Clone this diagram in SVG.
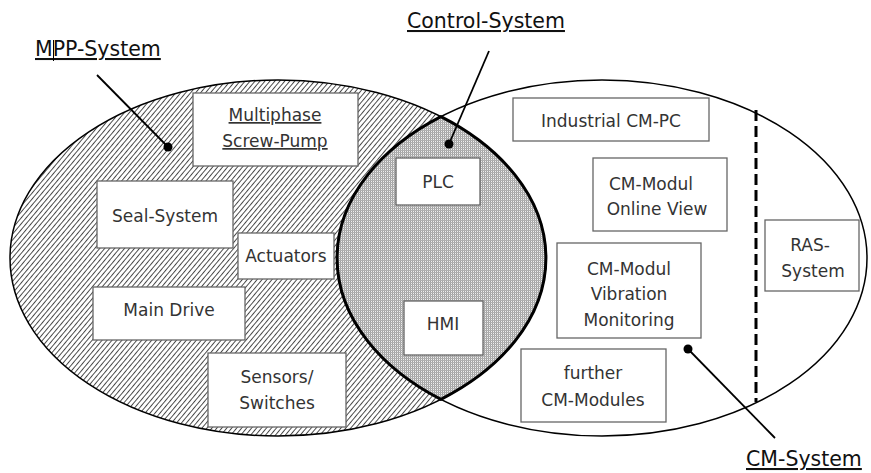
<svg xmlns="http://www.w3.org/2000/svg" width="871" height="473" viewBox="0 0 871 473">
<style>
.box{fill:#fff;stroke:#666;stroke-width:1.3}
.bt{font-family:"DejaVu Sans",Verdana,sans-serif;font-size:17px;fill:#333;text-anchor:middle}
.lbl{font-family:"DejaVu Sans",Verdana,sans-serif;font-size:20.5px;fill:#111;text-decoration:underline}
.outline{fill:none;stroke:#000;stroke-width:1.5}
.ptr{stroke:#000;stroke-width:1.8;fill:none}
</style>
<defs>
<pattern id="hatch" patternUnits="userSpaceOnUse" width="3.8" height="10" patternTransform="rotate(40)">
<rect width="3.8" height="10" fill="#fff"/>
<line x1="0.5" y1="0" x2="0.5" y2="10" stroke="#333" stroke-width="0.9"/>
</pattern>
<pattern id="grid" patternUnits="userSpaceOnUse" width="2" height="2">
<rect width="2" height="2" fill="#efefef"/>
<rect width="1" height="2" fill="#a0a0a0"/>
<rect width="2" height="1" fill="#b0b0b0"/>
</pattern>
</defs>
<g id="areas">
<ellipse id="mpp-area" cx="278" cy="258" rx="268" ry="178" fill="url(#hatch)"/>
<path id="control-area" d="M440.9,116.7 A265,178 0 0,0 440.9,399.3 A268,178 0 0,0 440.9,116.7 Z" fill="url(#grid)"/>
<ellipse cx="278" cy="258" rx="268" ry="178" class="outline"/>
<ellipse id="cm-area" cx="602" cy="258" rx="265" ry="178" class="outline"/>
<path d="M440.9,116.7 A265,178 0 0,0 440.9,399.3 A268,178 0 0,0 440.9,116.7 Z" fill="none" stroke="#000" stroke-width="3"/>
<line x1="756" y1="110" x2="756" y2="402" stroke="#000" stroke-width="3" stroke-dasharray="11,5"/>
</g>
<g id="n-multiphase"><rect class="box" x="193" y="93" width="165" height="73"/><text class="bt" x="275" y="121" text-decoration="underline">Multiphase</text><text class="bt" x="275" y="147" text-decoration="underline">Screw-Pump</text></g>
<g id="n-seal"><rect class="box" x="97" y="181" width="136" height="67"/><text class="bt" x="165" y="222">Seal-System</text></g>
<g id="n-actuators"><rect class="box" x="238" y="233" width="96" height="46"/><text class="bt" x="286" y="262">Actuators</text></g>
<g id="n-maindrive"><rect class="box" x="93" y="287" width="152" height="53"/><text class="bt" x="169" y="316">Main Drive</text></g>
<g id="n-sensors"><rect class="box" x="208" y="353" width="138" height="74"/><text class="bt" x="277" y="383">Sensors/</text><text class="bt" x="277" y="409">Switches</text></g>
<g id="n-plc"><rect class="box" x="396" y="158" width="84" height="47"/><text class="bt" x="438" y="188">PLC</text></g>
<g id="n-hmi"><rect class="box" x="404" y="301" width="79" height="54"/><text class="bt" x="443" y="330">HMI</text></g>
<g id="n-cmpc"><rect class="box" x="513" y="98" width="196" height="43"/><text class="bt" x="611" y="127">Industrial CM-PC</text></g>
<g id="n-online"><rect class="box" x="593" y="158" width="134" height="73"/><text class="bt" x="651" y="190">CM-Modul</text><text class="bt" x="657" y="215">Online View</text></g>
<g id="n-vibration"><rect class="box" x="557" y="243" width="144" height="95"/><text class="bt" x="629" y="275">CM-Modul</text><text class="bt" x="629" y="300">Vibration</text><text class="bt" x="629" y="326">Monitoring</text></g>
<g id="n-further"><rect class="box" x="521" y="349" width="145" height="73"/><text class="bt" x="593" y="379">further</text><text class="bt" x="593" y="406">CM-Modules</text></g>
<g id="n-ras"><rect class="box" x="765" y="220" width="94" height="71"/><text class="bt" x="810" y="251">RAS-</text><text class="bt" x="813" y="277">System</text></g>
<g id="connectors">
<line class="ptr" x1="97" y1="75" x2="168" y2="147"/><circle cx="168" cy="147" r="4.5"/>
<line class="ptr" x1="489" y1="51" x2="449" y2="144"/><circle cx="449" cy="144" r="4.5"/>
<line class="ptr" x1="775" y1="438" x2="688" y2="349"/><circle cx="688" cy="349" r="4.5"/>
</g>
<g id="labels">
<text class="lbl" x="35" y="56">MPP-System</text>
<line x1="53.5" y1="40" x2="53.5" y2="61" stroke="#000" stroke-width="1"/>
<text class="lbl" x="407" y="28">Control-System</text>
<text class="lbl" x="746" y="466">CM-System</text>
</g>
</svg>
